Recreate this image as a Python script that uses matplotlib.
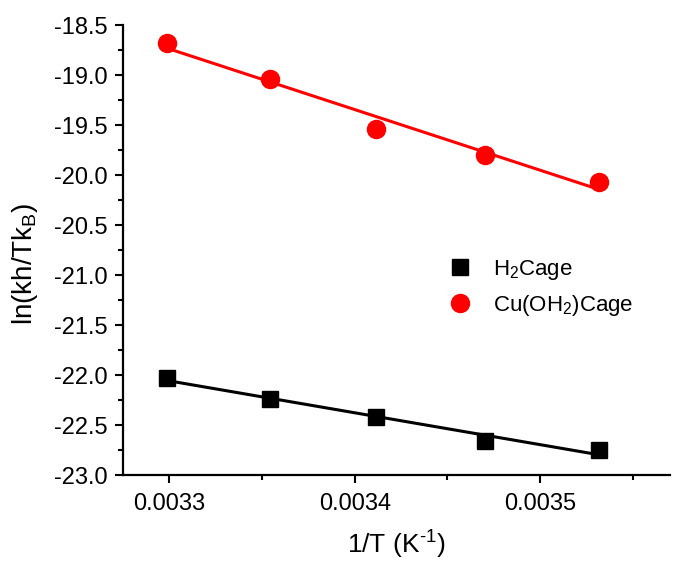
import numpy as np
import matplotlib
matplotlib.use("Agg")
import matplotlib.pyplot as plt
from matplotlib.ticker import MultipleLocator, FuncFormatter

plt.rcParams['font.family'] = ['Liberation Sans', 'DejaVu Sans']
plt.rcParams['mathtext.fontset'] = 'custom'
plt.rcParams['mathtext.rm'] = 'Liberation Sans'
plt.rcParams['mathtext.it'] = 'Liberation Sans'

inv_T = [1/303.15, 1/298.15, 1/293.15, 1/288.15, 1/283.15]
h2cage = [-22.03, -22.24, -22.42, -22.66, -22.75]
cucage = [-18.68, -19.04, -19.54, -19.80, -20.07]

series_names = [r'H$_2$Cage', r'Cu(OH$_2$)Cage']

fig = plt.figure(figsize=(6.73, 5.70), dpi=100)
ax = fig.add_axes([123/673, 95/570, (670-123)/673, (475-25)/570])

x = np.array(inv_T)
for yv, col, mk, ms, name in [(h2cage, 'black', 's', 11, series_names[0]),
                              (cucage, 'red', 'o', 13, series_names[1])]:
    yv = np.array(yv)
    ax.plot(x, yv, linestyle='none', marker=mk, color=col, markersize=ms, label=name)
    p = np.polyfit(x, yv, 1)
    xf = np.array([x.min(), x.max()])
    ax.plot(xf, np.polyval(p, xf), color=col, linewidth=2.2)

ax.set_xlim(0.003275, 0.00357)
ax.set_ylim(-23.0, -18.5)
ax.xaxis.set_major_locator(MultipleLocator(0.0001))
ax.xaxis.set_minor_locator(MultipleLocator(0.00005))
ax.yaxis.set_major_locator(MultipleLocator(0.5))
ax.yaxis.set_minor_locator(MultipleLocator(0.25))
ax.xaxis.set_major_formatter(FuncFormatter(lambda v, p: f"{v:.4f}"))
ax.yaxis.set_major_formatter(FuncFormatter(lambda v, p: f"{v:.1f}"))

for s in ['top', 'right']:
    ax.spines[s].set_visible(False)
for s in ['left', 'bottom']:
    ax.spines[s].set_linewidth(1.6)

ax.tick_params(which='major', direction='out', length=6, width=1.5, labelsize=17, pad=5)
ax.tick_params(which='minor', direction='out', length=3.5, width=1.5)
ax.tick_params(axis='x', which='major', pad=7)

ax.set_xlabel('1/T (K$^{\u2010\\mathrm{1}}$)', fontsize=19, labelpad=10)
ax.set_ylabel(r'ln(kh/Tk$_\mathrm{B}$)', fontsize=20)
ax.yaxis.set_label_coords(-0.152, 0.47)

handles, labels = ax.get_legend_handles_labels()
leg = ax.legend(handles, labels, loc='upper left', bbox_to_anchor=(0.555, 0.527),
                frameon=False, fontsize=16, handlelength=1.2, handletextpad=0.9,
                labelspacing=0.5)

fig.savefig('out.png', dpi=100)
